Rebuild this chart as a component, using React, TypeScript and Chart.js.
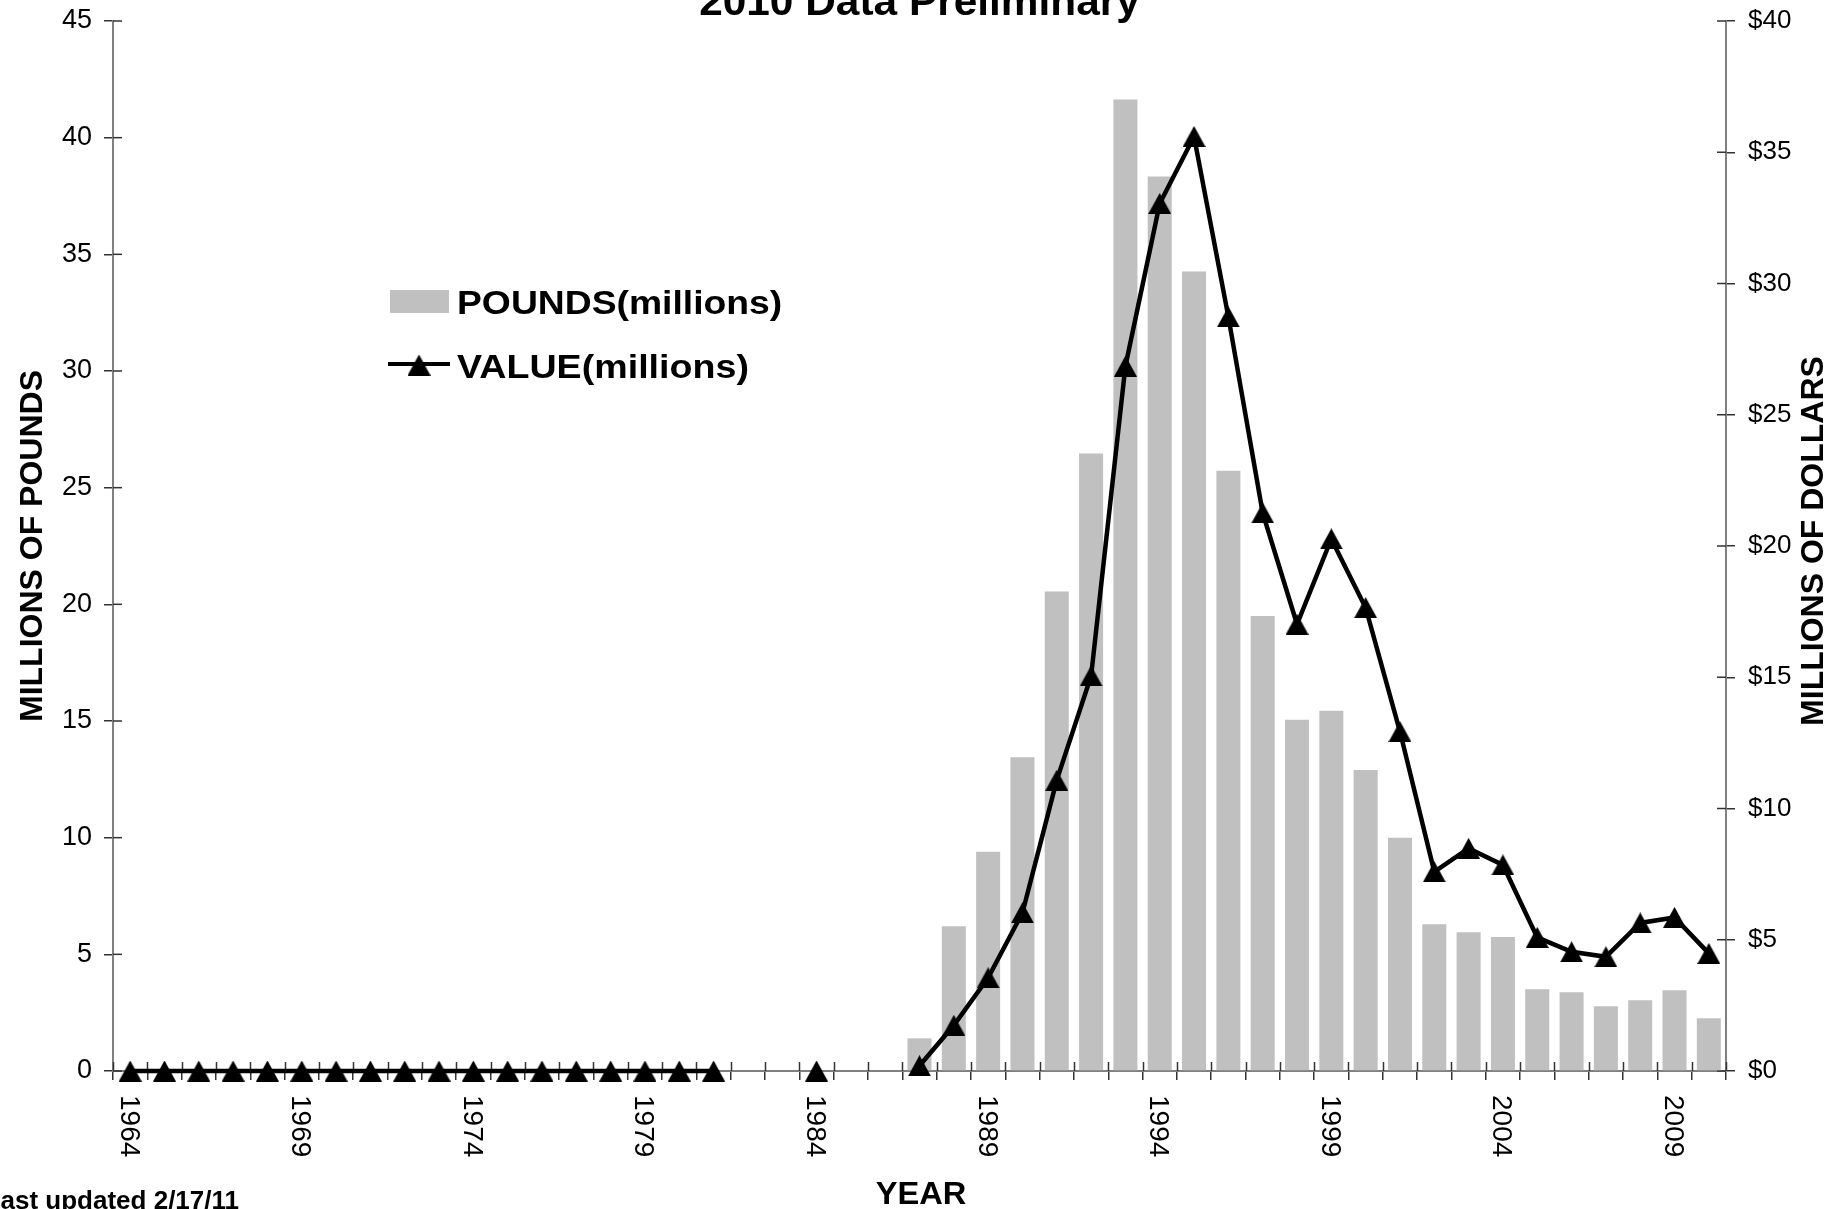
import { useEffect, useRef } from 'react';
import { Chart, registerables } from 'chart.js';

Chart.register(...registerables);

const YEARS: string[] = [
  '1964', '1965', '1966', '1967', '1968', '1969', '1970', '1971', '1972', '1973',
  '1974', '1975', '1976', '1977', '1978', '1979', '1980', '1981', '1982', '1983',
  '1984', '1985', '1986', '1987', '1988', '1989', '1990', '1991', '1992', '1993',
  '1994', '1995', '1996', '1997', '1998', '1999', '2000', '2001', '2002', '2003',
  '2004', '2005', '2006', '2007', '2008', '2009', '2010',
];

const X_TICK_LABELS: string[] = ['1964', '1969', '1974', '1979', '1984', '1989', '1994', '1999', '2004', '2009'];

// millions of pounds (left axis)
const POUNDS: (number | null)[] = [
  null, null, null, null, null, null, null, null, null, null,
  null, null, null, null, null, null, null, null, null, null,
  null, null, null, 1.4, 6.2, 9.4, 13.45, 20.55, 26.46, 41.64,
  38.34, 34.26, 25.73, 19.5, 15.05, 15.44, 12.9, 10.0, 6.29, 5.95,
  5.74, 3.5, 3.38, 2.78, 3.03, 3.46, 2.26,
];

// millions of dollars (right axis)
const VALUE: (number | null)[] = [
  0, 0, 0, 0, 0, 0, 0, 0, 0, 0,
  0, 0, 0, 0, 0, 0, 0, 0, null, null,
  0, null, null, 0.2, 1.74, 3.55, 6.03, 11.08, 15.05, 26.85,
  33.05, 35.6, 28.73, 21.26, 17.02, 20.27, 17.65, 12.93, 7.59, 8.48,
  7.85, 5.09, 4.54, 4.35, 5.64, 5.85, 4.48,
];

const TITLE = '2010 Data Preliminary';
const LEFT_TITLE = 'MILLIONS OF POUNDS';
const RIGHT_TITLE = 'MILLIONS OF DOLLARS';
const X_TITLE = 'YEAR';
const FOOTNOTE = 'Last updated 2/17/11';
const LEGEND_BARS = 'POUNDS(millions)';
const LEGEND_LINE = 'VALUE(millions)';

const FONT = '"Liberation Sans", Arial, Helvetica, sans-serif';

function makeTriangle(): HTMLCanvasElement {
  const c = document.createElement('canvas');
  c.width = 23;
  c.height = 21;
  const g = c.getContext('2d')!;
  g.fillStyle = '#000';
  g.beginPath();
  g.moveTo(11.5, 0);
  g.lineTo(23, 21);
  g.lineTo(0, 21);
  g.closePath();
  g.fill();
  return c;
}

function txt(
  ctx: CanvasRenderingContext2D,
  s: string,
  x: number,
  y: number,
  font: string,
  align: CanvasTextAlign,
  sx = 1,
  rot = 0,
) {
  ctx.save();
  ctx.font = font;
  ctx.fillStyle = '#000';
  ctx.textAlign = align;
  ctx.textBaseline = 'alphabetic';
  ctx.translate(x, y);
  if (rot) ctx.rotate(rot);
  ctx.scale(sx, 1);
  ctx.fillText(s, 0, 0);
  ctx.restore();
}

export default function App() {
  const ref = useRef<HTMLCanvasElement | null>(null);

  useEffect(() => {
    if (!ref.current) return;
    const tri = makeTriangle();

    const decor = {
      id: 'decor',
      beforeDatasetsDraw(chart: any) {
        const ctx: CanvasRenderingContext2D = chart.ctx;
        const a = chart.chartArea;
        const xs = chart.scales.x;
        const ys = chart.scales.y;
        const y1 = chart.scales.y1;
        ctx.save();
        ctx.strokeStyle = '#333';
        ctx.lineWidth = 1.5;
        const step = xs.getPixelForTick(1) - xs.getPixelForTick(0);
        for (let i = 0; i <= xs.ticks.length; i++) {
          const px = Math.round(xs.getPixelForTick(0) - step / 2 + i * step) + 0.5;
          ctx.beginPath();
          ctx.moveTo(px, a.bottom - 9);
          ctx.lineTo(px, a.bottom);
          ctx.stroke();
        }
        ys.ticks.forEach((_t: any, i: number) => {
          const py = ys.getPixelForTick(i);
          ctx.beginPath();
          ctx.moveTo(a.left, py);
          ctx.lineTo(a.left + 9, py);
          ctx.stroke();
        });
        y1.ticks.forEach((_t: any, i: number) => {
          const py = y1.getPixelForTick(i);
          ctx.beginPath();
          ctx.moveTo(a.right - 9, py);
          ctx.lineTo(a.right, py);
          ctx.stroke();
        });
        ctx.restore();
      },
      afterDraw(chart: any) {
        const ctx: CanvasRenderingContext2D = chart.ctx;
        const a = chart.chartArea;
        const xs = chart.scales.x;

        // x tick labels, rotated clockwise
        YEARS.forEach((yr, i) => {
          if (X_TICK_LABELS.indexOf(yr) < 0) return;
          const px = xs.getPixelForTick(i);
          txt(ctx, yr, px - 9.5, a.bottom + 24, `28px ${FONT}`, 'left', 1, Math.PI / 2);
        });

        // title (partly cut at top)
        txt(ctx, TITLE, (a.left + a.right) / 2, 15, `bold 40px ${FONT}`, 'center', 1.06);

        // axis titles
        txt(ctx, LEFT_TITLE, 42, 546, `bold 32px ${FONT}`, 'center', 1, -Math.PI / 2);
        txt(ctx, RIGHT_TITLE, 1823, 541, `bold 32px ${FONT}`, 'center', 1, -Math.PI / 2);
        txt(ctx, X_TITLE, 921, 1204, `bold 32px ${FONT}`, 'center', 1.02);
        txt(ctx, FOOTNOTE, 239, 1209, `bold 26px ${FONT}`, 'right');

        // legend
        ctx.save();
        ctx.fillStyle = '#C0C0C0';
        ctx.fillRect(390, 290, 59, 23);
        ctx.strokeStyle = '#000';
        ctx.lineWidth = 4;
        ctx.beginPath();
        ctx.moveTo(388, 364);
        ctx.lineTo(450, 364);
        ctx.stroke();
        ctx.drawImage(tri, 419 - 11.5, 365 - 10.5);
        ctx.restore();
        txt(ctx, LEGEND_BARS, 457, 314, `bold 33px ${FONT}`, 'left', 1.13);
        txt(ctx, LEGEND_LINE, 457, 378, `bold 33px ${FONT}`, 'left', 1.14);
      },
    };

    const gridOpts = {
      drawOnChartArea: false,
      drawTicks: true,
      tickLength: 9,
      color: '#333',
      lineWidth: 1.5,
    };
    const borderOpts = { display: true, color: '#808080', width: 2 };

    const chart = new Chart(ref.current, {
      type: 'bar',
      data: {
        labels: YEARS,
        datasets: [
          {
            type: 'line',
            label: LEGEND_LINE,
            data: VALUE,
            yAxisID: 'y1',
            borderColor: '#000',
            backgroundColor: '#000',
            borderWidth: 4.5,
            pointStyle: tri,
            pointRadius: 11,
            spanGaps: false,
            tension: 0,
            clip: false,
            order: 0,
          } as any,
          {
            type: 'bar',
            label: LEGEND_BARS,
            data: POUNDS,
            yAxisID: 'y',
            backgroundColor: '#C0C0C0',
            borderWidth: 0,
            barPercentage: 0.7,
            categoryPercentage: 1,
            order: 1,
          } as any,
        ],
      },
      options: {
        responsive: false,
        animation: false,
        devicePixelRatio: 1,
        layout: { padding: { top: 21, left: 0, right: 0, bottom: 0 } },
        plugins: {
          legend: { display: false },
          tooltip: { enabled: false },
          title: { display: false },
        },
        scales: {
          x: {
            type: 'category',
            offset: true,
            grid: { ...gridOpts, offset: true },
            border: borderOpts,
            ticks: { display: false, autoSkip: false },
            afterFit: (s: any) => {
              s.height = 138;
              s.paddingLeft = 0;
              s.paddingRight = 0;
            },
          },
          y: {
            position: 'left',
            min: 0,
            max: 45,
            grid: gridOpts,
            border: borderOpts,
            ticks: {
              stepSize: 5,
              color: '#000',
              padding: 12,
              font: { family: FONT, size: 27 },
            },
            afterFit: (s: any) => {
              s.width = 113;
              s.paddingTop = 0;
              s.paddingBottom = 0;
            },
          },
          y1: {
            position: 'right',
            min: 0,
            max: 40,
            grid: gridOpts,
            border: borderOpts,
            ticks: {
              stepSize: 5,
              color: '#000',
              padding: 13,
              font: { family: FONT, size: 26 },
              callback: (v: any) => '$' + v,
            },
            afterFit: (s: any) => {
              s.width = 105;
              s.paddingTop = 0;
              s.paddingBottom = 0;
            },
          },
        },
      } as any,
      plugins: [decor],
    });

    return () => chart.destroy();
  }, []);

  return (
    <div style={{ position: 'absolute', left: 0, top: 0, width: 1831, height: 1209, background: '#fff' }}>
      <canvas ref={ref} width={1831} height={1209} style={{ display: 'block', width: 1831, height: 1209 }} />
    </div>
  );
}
